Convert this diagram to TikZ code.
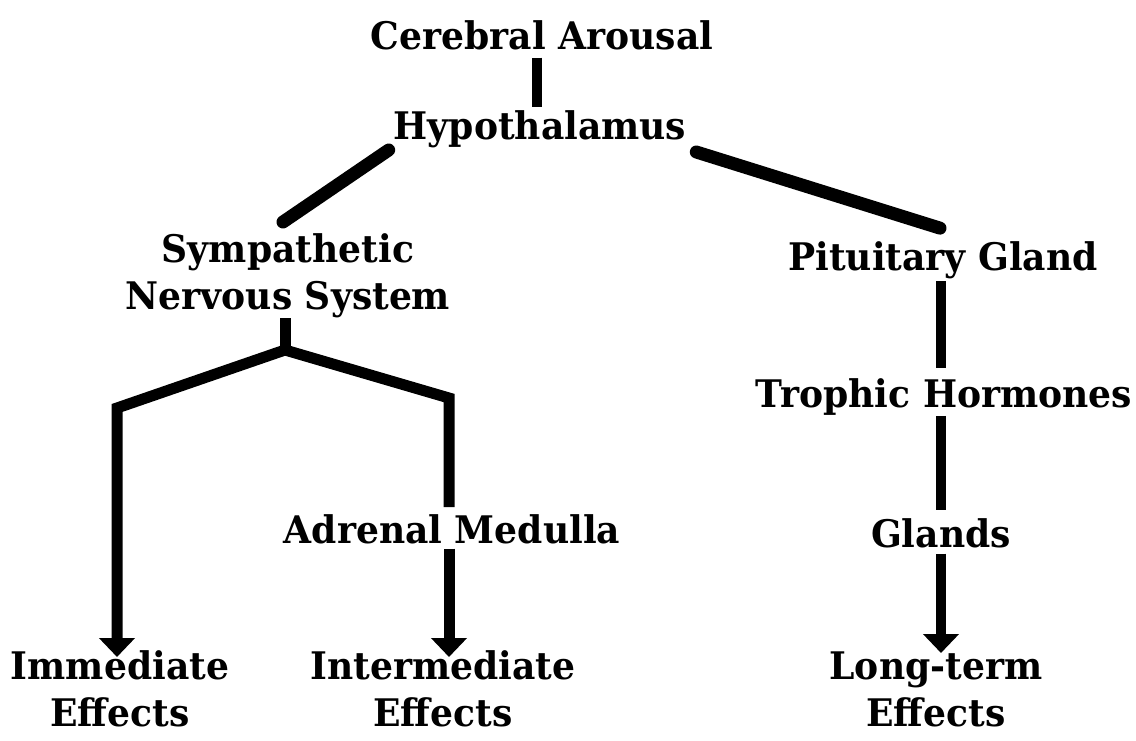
\documentclass[tikz,border=0pt]{standalone}
\usepackage{fontspec}
\setmainfont[FakeStretch=0.95]{DejaVu Serif}
\usetikzlibrary{calc,arrows.meta}
\begin{document}
\begin{tikzpicture}[x=1pt,y=-1pt,
  >={Triangle[width=35pt,length=19pt]},
  lbl/.style={font=\fontsize{38}{47}\selectfont\bfseries, inner sep=0pt, outer sep=0pt, align=center},
  stem/.style={line width=10pt},
  limb/.style={line width=13pt, line cap=round},
  branchline/.style={line width=11pt, line join=miter}]

% canvas
\fill[white] (0,0) rectangle (1136,741);
\useasboundingbox (0,0) rectangle (1136,741);

% labels
\node[lbl, anchor=base]  (cer) at (542,50)  {Cerebral Arousal};
\node[lbl, anchor=base]  (hyp) at (540,140) {Hypothalamus};
\node[lbl, anchor=north] (sns) at (288,234) {Sympathetic\\Nervous System};
\node[lbl, anchor=base]  (pit) at (943,270) {Pituitary Gland};
\node[lbl, anchor=base]  (tro) at (944,407) {Trophic Hormones};
\node[lbl, anchor=base]  (gla) at (941,547) {Glands};
\node[lbl, anchor=base]  (adr) at (452,543) {Adrenal Medulla};
\node[lbl, anchor=north] (imm) at (120,651) {Immediate\\Effects};
\node[lbl, anchor=north] (int) at (443,651) {Intermediate\\Effects};
\node[lbl, anchor=north] (lte) at (936,652) {Long-term\\Effects};

% branch points of the sympathetic fork
\coordinate (fk) at (285,350);
\coordinate (cl) at (117,408);
\coordinate (cr) at (449,398);

% upper part
\draw[stem] ($(cer.south)+(-5,7)$) -- ($(hyp.north)+(-3,-4)$);
\draw[limb] ($(hyp.base west)+(-5,10)$) -- ($(sns.north)+(-5,-12)$);
\draw[limb] ($(hyp.base east)+(10,12)$) -- ($(pit.north)+(-3,-13)$);

% sympathetic branch
\draw[branchline] (sns.south -| fk) -- (fk);
\draw[branchline, <-] ($(imm.north -| cl)+(0,6)$) -- (cl) -- (fk) -- (cr) -- ($(adr.north -| cr)+(0,-7)$);
\draw[branchline, ->] ($(adr.south -| cr)+(0,5)$) -- ($(int.north -| cr)+(0,6)$);

% pituitary branch
\draw[stem] ($(pit.south -| gla.base)+(0,3)$) -- ($(tro.north -| gla.base)+(0,-10)$);
\draw[stem] ($(tro.south -| gla.base)+(0,1)$) -- ($(gla.north)+(0,-8)$);
\draw[stem, ->] ($(gla.south)+(0,6)$) -- ($(lte.north -| gla.south)+(0,1)$);
\end{tikzpicture}
\end{document}
